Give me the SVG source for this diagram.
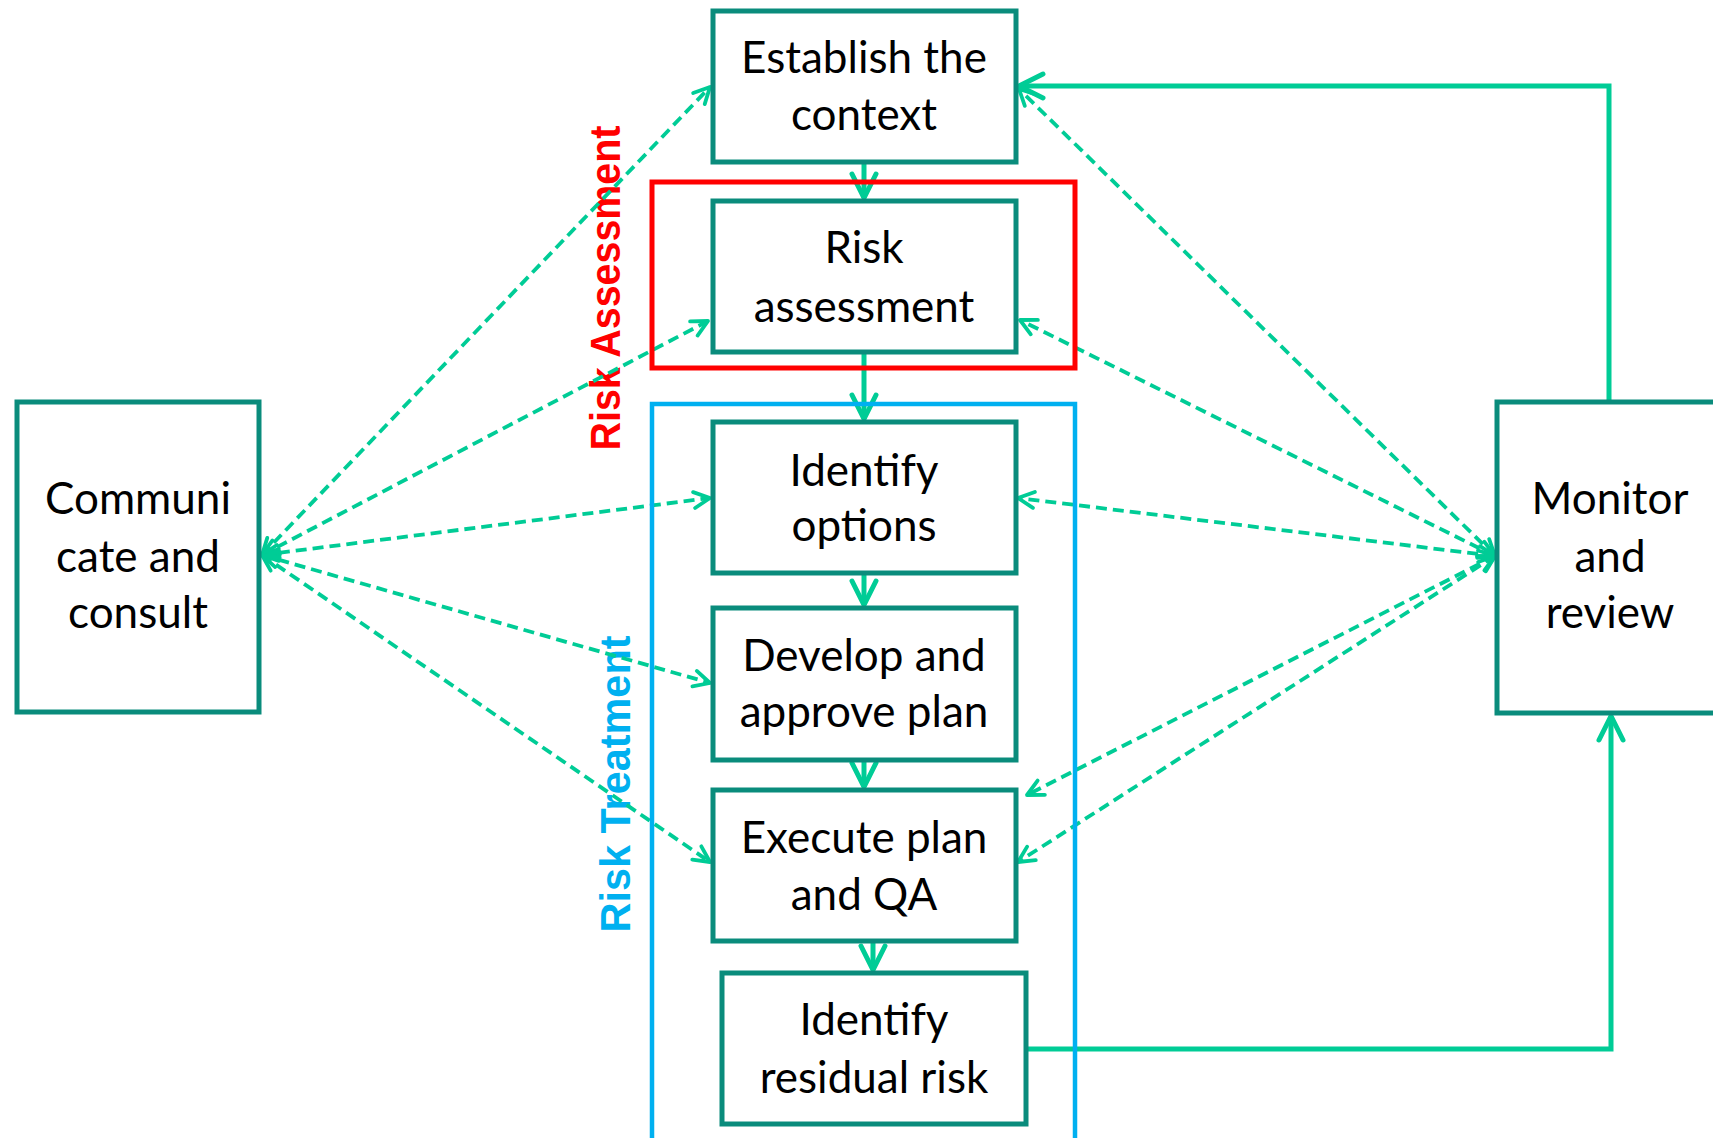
<svg xmlns="http://www.w3.org/2000/svg" width="1713" height="1138" viewBox="0 0 1713 1138">
<style>
.node rect{fill:#ffffff;stroke:#0a8c7c;stroke-width:5}
.node text{font-family:Lato,"Open Sans","Liberation Sans",sans-serif;font-size:44px;fill:#000;text-anchor:middle}
.solid{fill:none;stroke:#00cc96;stroke-width:5}
.dash{fill:none;stroke:#00cc96;stroke-width:3.8;stroke-dasharray:11 6}
.lbl{font-family:"Liberation Sans",Arial,sans-serif;font-weight:bold;font-size:42px;text-anchor:middle}
</style>
<defs>
<marker id="ah" markerUnits="userSpaceOnUse" viewBox="-30 -20 36 40" refX="0" refY="0" markerWidth="36" markerHeight="40" orient="auto">
<path d="M-24 -12 L0 0 L-24 12" fill="none" stroke="#00cc96" stroke-width="5" stroke-linecap="round" stroke-linejoin="round"/>
</marker>
<marker id="ad" markerUnits="userSpaceOnUse" viewBox="-22 -14 26 28" refX="0" refY="0" markerWidth="26" markerHeight="28" orient="auto-start-reverse">
<path d="M-16 -8 L0 0 L-16 8" fill="none" stroke="#00cc96" stroke-width="3.8" stroke-dasharray="none" stroke-linecap="round" stroke-linejoin="round"/>
</marker>
</defs>
<rect width="1713" height="1138" fill="#ffffff"/>
<g id="labels">
<text class="lbl" fill="#ff0000" transform="translate(620,288) rotate(-90)" textLength="325" lengthAdjust="spacingAndGlyphs">Risk Assessment</text>
<text class="lbl" fill="#00b0f0" transform="translate(630,784) rotate(-90)" textLength="297" lengthAdjust="spacingAndGlyphs">Risk Treatment</text>
</g>
<g id="connectors">
<path class="dash" d="M262 555 L710 87" marker-start="url(#ad)" marker-end="url(#ad)"/>
<path class="dash" d="M262 555 L708 321" marker-start="url(#ad)" marker-end="url(#ad)"/>
<path class="dash" d="M262 555 L710 498" marker-start="url(#ad)" marker-end="url(#ad)"/>
<path class="dash" d="M262 555 L710 683" marker-start="url(#ad)" marker-end="url(#ad)"/>
<path class="dash" d="M262 555 L710 862" marker-start="url(#ad)" marker-end="url(#ad)"/>
<path class="dash" d="M1495 556 L1019 89" marker-start="url(#ad)" marker-end="url(#ad)"/>
<path class="dash" d="M1495 556 L1020 320" marker-start="url(#ad)" marker-end="url(#ad)"/>
<path class="dash" d="M1495 556 L1018 498" marker-start="url(#ad)" marker-end="url(#ad)"/>
<path class="dash" d="M1495 556 L1027 795" marker-start="url(#ad)" marker-end="url(#ad)"/>
<path class="dash" d="M1495 556 L1018 862" marker-start="url(#ad)" marker-end="url(#ad)"/>
<path class="solid" d="M864 163 L864 198" marker-end="url(#ah)"/>
<path class="solid" d="M864 354 L864 419" marker-end="url(#ah)"/>
<path class="solid" d="M864 575 L864 605" marker-end="url(#ah)"/>
<path class="solid" d="M864 762 L864 787" marker-end="url(#ah)"/>
<path class="solid" d="M873 943 L873 970" marker-end="url(#ah)"/>
<path class="solid" d="M1609 400 L1609 86 L1019 86" marker-end="url(#ah)"/>
<path class="solid" d="M1027 1049 L1611 1049 L1611 716" marker-end="url(#ah)"/>
</g>
<g id="groups">
<rect x="652" y="182" width="423" height="186" fill="none" stroke="#ff0000" stroke-width="5"/>
<rect x="652" y="404" width="423" height="745" fill="none" stroke="#00b0f0" stroke-width="4.5"/>
</g>
<g id="establish" class="node"><rect x="713" y="11" width="303" height="151"/><text x="864" y="73">Establish the</text><text x="864" y="130">context</text></g>
<g id="risk-assessment" class="node"><rect x="713" y="201" width="303" height="151"/><text x="864" y="263">Risk</text><text x="864" y="322">assessment</text></g>
<g id="identify-options" class="node"><rect x="713" y="422" width="303" height="151"/><text x="864" y="486">Identify</text><text x="864" y="541">options</text></g>
<g id="develop" class="node"><rect x="713" y="608" width="303" height="152"/><text x="864" y="671">Develop and</text><text x="864" y="727">approve plan</text></g>
<g id="execute" class="node"><rect x="713" y="790" width="303" height="151"/><text x="864" y="853">Execute plan</text><text x="864" y="910">and QA</text></g>
<g id="residual" class="node"><rect x="722" y="973" width="304" height="151"/><text x="874" y="1035">Identify</text><text x="874" y="1093">residual risk</text></g>
<g id="communicate" class="node"><rect x="17" y="402" width="242" height="310"/><text x="138" y="514">Communi</text><text x="138" y="572">cate and</text><text x="138" y="628">consult</text></g>
<g id="monitor" class="node"><rect x="1497" y="402" width="240" height="311"/><text x="1610" y="514">Monitor</text><text x="1610" y="572">and</text><text x="1610" y="628">review</text></g>
</svg>
